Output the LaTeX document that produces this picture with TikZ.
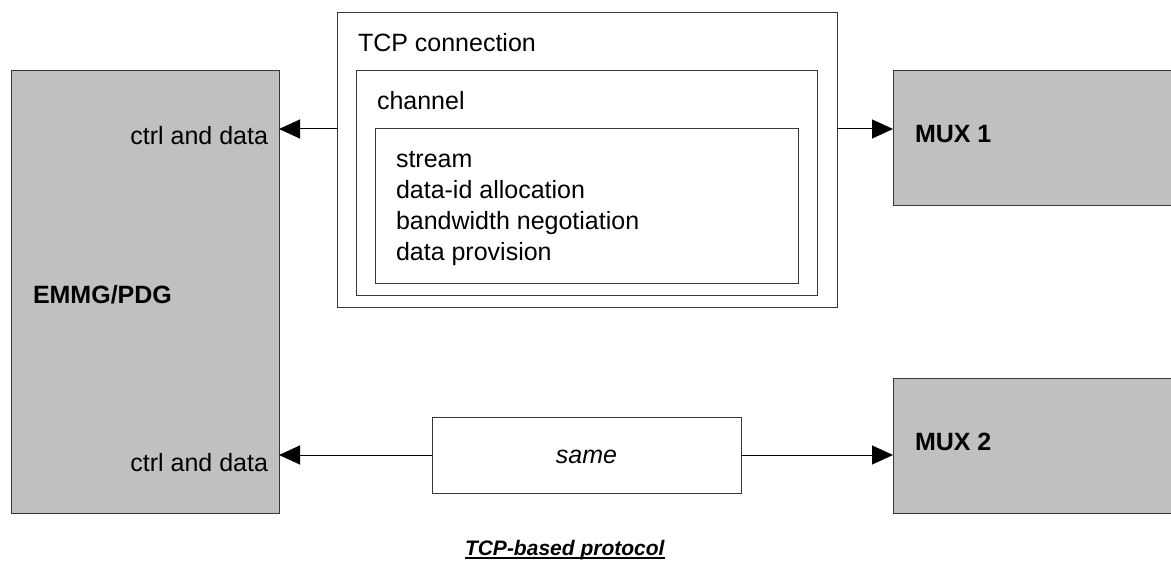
\documentclass[tikz,border=0pt]{standalone}
\usepackage{fontspec}
\setmainfont{Liberation Sans}
\usetikzlibrary{arrows.meta}
\definecolor{boxgray}{RGB}{192,192,192}
\definecolor{edge}{RGB}{55,55,55}
\tikzset{
  frame/.style={draw=edge, line width=1pt, inner sep=0pt, outer sep=0pt, anchor=north west},
  grey/.style={frame, fill=boxgray},
  txt/.style={inner sep=0pt, outer sep=0pt, anchor=base west, font=\fontsize{25}{31}\selectfont},
  bold/.style={txt, font=\fontsize{25}{31}\selectfont\bfseries},
  arr/.style={line width=1pt, draw=black, -{Triangle[length=21pt,width=19pt]}}
}
\begin{document}
\begin{tikzpicture}[x=1pt,y=-1pt]
\clip (0,0) rectangle (1171,567);

% end systems
\node[grey, minimum width=268pt, minimum height=442pt] (emmg) at (11,71) {};
\node[grey, minimum width=300pt, minimum height=135pt] (mux1) at (893,71) {};
\node[grey, minimum width=300pt, minimum height=135pt] (mux2) at (893,378) {};

% nested protocol layers
\node[frame, minimum width=500pt, minimum height=294pt] (tcp) at (337,13) {};
\node[frame, minimum width=461pt, minimum height=224pt] (chan) at (356,71) {};
\node[frame, minimum width=423pt, minimum height=154pt] (strm) at (375,129) {};
\node[frame, minimum width=309pt, minimum height=76pt] (same) at (432,417) {};

% labels
\node[bold] (lemmg) at (33,303) {EMMG/PDG};
\node[bold] (lmux1) at (915,143) {MUX 1};
\node[bold] (lmux2) at (915,450) {MUX 2};
\node[txt, anchor=base east] (cd1) at (268,145) {ctrl and data};
\node[txt, anchor=base east] (cd2) at (268,471) {ctrl and data};
\node[txt] (ltcp) at (358,52) {TCP connection};
\node[txt] (lchan) at (377,110) {channel};
% the base anchor of a multi-line node sits on its last line
\node[txt, align=left] (lstrm) at (396,260) {stream\\data-id allocation\\bandwidth negotiation\\data provision};
\node[txt, anchor=base, font=\fontsize{25}{31}\selectfont\itshape] (lsame) at (same.center |- 0,463) {same};

% connectors
\draw[arr] (tcp.west |- strm.north) -- (emmg.east |- strm.north);
\draw[arr] (tcp.east |- strm.north) -- (mux1.west |- strm.north);
\draw[arr] (same.west) -- (same.west -| emmg.east);
\draw[arr] (same.east) -- (same.east -| mux2.west);

% caption
\node[txt, font=\fontsize{21}{25}\selectfont\bfseries\itshape] (cap) at (465,555) {TCP-based protocol\ };
\draw[line width=1.6pt] ([yshift=-3pt]cap.base west) -- ([yshift=-3pt]cap.base east);
\end{tikzpicture}
\end{document}
